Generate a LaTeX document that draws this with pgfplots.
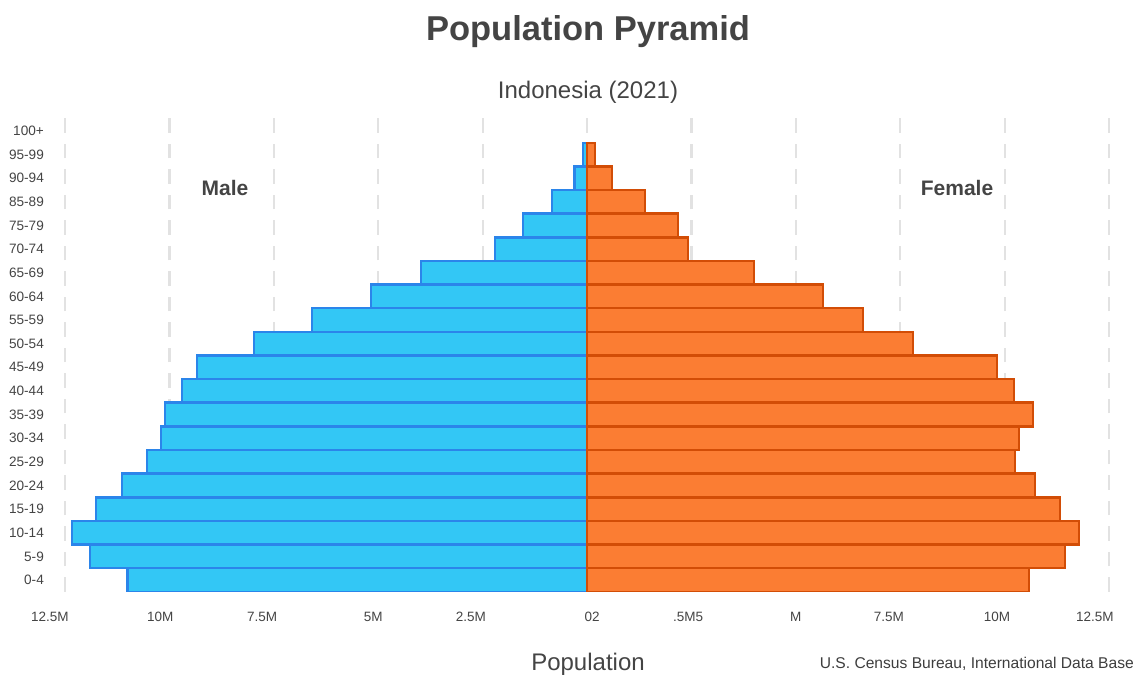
\documentclass[border=0pt]{standalone}
\usepackage{pgfplots}
\pgfplotsset{compat=1.18}
\usepackage{fontspec}
\setmainfont{Liberation Sans}
\definecolor{malefill}{HTML}{33C7F5}
\definecolor{maleedge}{HTML}{2B85EA}
\definecolor{femfill}{HTML}{FB7D33}
\definecolor{femedge}{HTML}{D24D06}
\definecolor{txt}{HTML}{444444}
\definecolor{gridc}{HTML}{E2E2E2}
\begin{document}
\begin{tikzpicture}[x=1pt,y=1pt]
\useasboundingbox (0,0) rectangle (1140,675);
\begin{axis}[
  at={(48.3pt,83.2pt)}, anchor=south west,
  scale only axis, width=1060.7pt, height=475pt,
  xmin=-12.9, xmax=12.5, ymin=-0.5, ymax=19.6,
  axis line style={draw=none},
  tick style={draw=none},
  xtick={-12.5,-10,-7.5,-5,-2.5,0,2.5,5,7.5,10,12.5},
  xticklabels={},
  xmajorgrids,
  major grid style={gridc, line width=2.2pt, dash pattern=on 14.5pt off 11pt},
  extra x ticks={-12.86,-10.22,-7.78,-5.12,-2.78,0.12,2.42,5.00,7.23,9.82,12.16},
  extra x tick labels={12.5M,10M,7.5M,5M,2.5M,02,.5M5,M,7.5M,10M,12.5M},
  extra x tick style={grid=none},
  xticklabel style={font=\fontsize{13.5}{16}\selectfont, text=txt, inner sep=0pt, anchor=north},
  xticklabel shift=20pt,
  ytick={0,...,19},
  yticklabels={0-4,5-9,10-14,15-19,20-24,25-29,30-34,35-39,40-44,45-49,50-54,55-59,60-64,65-69,70-74,75-79,85-89,90-94,95-99,100+},
  yticklabel style={font=\fontsize{13.6}{16}\selectfont, text=txt, inner sep=0pt, anchor=east},
  yticklabel shift=0pt,
  xbar, bar width=1, bar shift=0pt,
]
\addplot[fill=malefill, draw=maleedge, line width=2.5pt] coordinates {
(-11.00,0) (-11.90,1) (-12.33,2) (-11.76,3) (-11.13,4) (-10.54,5) (-10.20,6) (-10.11,7) (-9.70,8) (-9.34,9)
(-7.97,10) (-6.59,11) (-5.17,12) (-3.98,13) (-2.20,14) (-1.53,15) (-0.84,16) (-0.30,17) (-0.10,18)};
\addplot[fill=femfill, draw=femedge, line width=2.5pt] coordinates {
(10.58,0) (11.45,1) (11.78,2) (11.33,3) (10.73,4) (10.25,5) (10.34,6) (10.68,7) (10.22,8) (9.82,9)
(7.81,10) (6.61,11) (5.65,12) (4.00,13) (2.42,14) (2.18,15) (1.39,16) (0.60,17) (0.19,18)};
\node[font=\bfseries\fontsize{21}{25}\selectfont, text=txt] at (axis cs:-8.67,16.59) {Male};
\node[font=\bfseries\fontsize{21}{25}\selectfont, text=txt] at (axis cs:8.86,16.59) {Female};
\end{axis}
\node[anchor=base, font=\bfseries\fontsize{34.5}{40}\selectfont, text=txt] at (588,634) {Population Pyramid};
\node[anchor=base, font=\fontsize{24}{28}\selectfont, text=txt] at (588,576) {Indonesia (2021)};
\node[anchor=base, font=\fontsize{24}{28}\selectfont, text=txt] at (588,5) {Population};
\node[anchor=base east, inner sep=0pt, font=\fontsize{15.6}{18}\selectfont, text=txt!90!black] at (1134,7) {U.S. Census Bureau, International Data Base};
\end{tikzpicture}
\end{document}
